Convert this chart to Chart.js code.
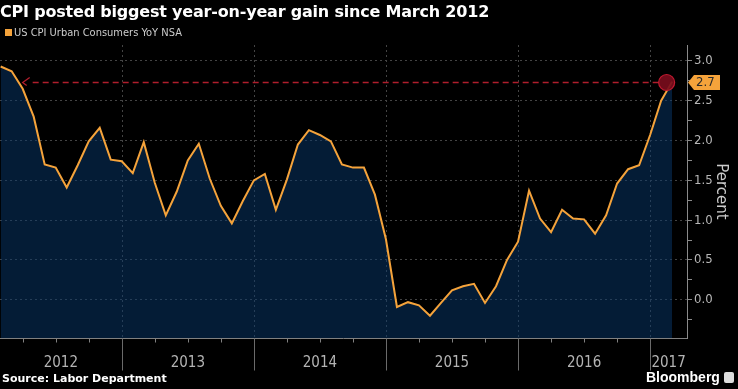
<!DOCTYPE html>
<html>
<head>
<meta charset="utf-8">
<script src="https://cdn.jsdelivr.net/npm/chart.js@4.4.1/dist/chart.umd.min.js"></script>
<style>
  html, body { margin: 0; padding: 0; background: #000; }
  #wrap { position: relative; width: 738px; height: 389px; overflow: hidden; background: #000; }
  #cpiChart { position: absolute; left: 0; top: 0; }
  .title { position: absolute; left: 0; top: 2px; color: #fff; font: bold 16px "DejaVu Sans", sans-serif; letter-spacing: -0.2px; white-space: nowrap; }
  .legend { position: absolute; left: 5px; top: 26px; color: #ccc; font: 11px "DejaVu Sans Condensed", "DejaVu Sans", sans-serif; white-space: nowrap; }
  .legend i { display: inline-block; width: 7px; height: 7px; background: #f5a33b; margin-right: 2px; vertical-align: 0px; }
  .source { position: absolute; left: 2px; top: 372px; color: #fff; font: bold 11px "DejaVu Sans", sans-serif; white-space: nowrap; }
  .brand { position: absolute; left: 646px; top: 369px; color: #fff; font: bold 14px "Liberation Sans", sans-serif; white-space: nowrap; }
  .brand i { display: inline-block; width: 10px; height: 11px; background: #ddd; border-radius: 2px; margin-left: 4px; vertical-align: -1px; }
</style>
</head>
<body>
<div id="wrap">
  <canvas id="cpiChart" width="738" height="389"></canvas>
  <div class="title">CPI posted biggest year-on-year gain since March 2012</div>
  <div class="legend"><i></i>US CPI Urban Consumers YoY NSA</div>
  <div class="source">Source: Labor Department</div>
  <div class="brand">Bloomberg<i></i></div>
</div>
<script>
// Years shown on the x axis; each year has 12 monthly readings (Jan 2012 .. Feb 2017)
const years = ["2012", "2013", "2014", "2015", "2016", "2017"];

// US CPI Urban Consumers YoY NSA, percent, monthly
const cpiYoY = [
  2.93, 2.87, 2.65, 2.30, 1.70, 1.66, 1.41, 1.69, 1.99, 2.16, 1.76, 1.74,
  1.59, 1.98, 1.47, 1.06, 1.36, 1.75, 1.96, 1.52, 1.18, 0.96, 1.24, 1.50,
  1.58, 1.13, 1.51, 1.95, 2.13, 2.07, 1.99, 1.70, 1.66, 1.66, 1.32, 0.76,
  -0.09, -0.03, -0.07, -0.20, -0.04, 0.12, 0.17, 0.20, -0.04, 0.17, 0.50, 0.73,
  1.37, 1.02, 0.85, 1.13, 1.02, 1.01, 0.83, 1.06, 1.46, 1.64, 1.69, 2.07,
  2.50, 2.74,
];

// y axis labels (major) and minor tick values
const yMajor = [0.0, 0.5, 1.0, 1.5, 2.0, 2.5, 3.0];
const yMinor = [-0.25, 0.25, 0.75, 1.25, 1.75, 2.25, 2.75];

// the callout compares the latest reading with March 2012
const compareIndex = 2;

const orange = "#f5a33b";

const axisPlugin = {
  id: "bbgAxis",
  beforeDatasetsDraw(chart) {
    const { ctx, chartArea, scales } = chart;
    const x = scales.x;
    ctx.save();
    ctx.strokeStyle = "#444";
    ctx.lineWidth = 1;
    ctx.setLineDash([2, 3]);
    years.forEach((yr, i) => {
      const idx = i * 12 - 1;
      if (idx < 0) return;
      const px = Math.round(x.getPixelForValue(idx)) + 0.5;
      ctx.beginPath();
      ctx.moveTo(px, chartArea.top);
      ctx.lineTo(px, chartArea.bottom);
      ctx.stroke();
    });
    ctx.restore();
  },
  afterDraw(chart) {
    const { ctx, chartArea, scales } = chart;
    const x = scales.x;
    const y = scales.y;
    const bottom = chartArea.bottom + 0.5;
    ctx.save();

    // x axis line
    ctx.strokeStyle = "#808080";
    ctx.lineWidth = 1;
    ctx.beginPath();
    ctx.moveTo(chartArea.left, bottom);
    ctx.lineTo(chartArea.right, bottom);
    ctx.stroke();

    // quarter ticks
    for (let q = 2; q < cpiYoY.length; q += 3) {
      const px = Math.round(x.getPixelForValue(q)) + 0.5;
      ctx.beginPath();
      ctx.moveTo(px, bottom);
      ctx.lineTo(px, bottom + 4);
      ctx.stroke();
    }

    // year dividers + labels
    ctx.font = "15px 'Liberation Sans Narrow', 'DejaVu Sans Condensed', sans-serif";
    ctx.fillStyle = "#b4b4b4";
    ctx.textAlign = "center";
    ctx.textBaseline = "middle";
    years.forEach((yr, i) => {
      const startIdx = i * 12 - 1;
      const endIdx = i * 12 + 11;
      const px0 = Math.max(chartArea.left, x.getPixelForValue(startIdx));
      const px1 = Math.min(chartArea.right, x.getPixelForValue(endIdx));
      if (startIdx >= 0) {
        const px = Math.round(x.getPixelForValue(startIdx)) + 0.5;
        ctx.strokeStyle = "#6a6a6a";
        ctx.beginPath();
        ctx.moveTo(px, bottom);
        ctx.lineTo(px, bottom + 32);
        ctx.stroke();
      }
      ctx.fillText(yr, (px0 + px1) / 2, 363);
    });

    // callout: latest reading vs March 2012
    const last = cpiYoY.length - 1;
    const lx = x.getPixelForValue(last);
    const ly = Math.round(y.getPixelForValue(cpiYoY[last])) + 0.5;
    const ax = x.getPixelForValue(compareIndex);

    ctx.strokeStyle = "#b01e2c";
    ctx.lineWidth = 1.3;
    ctx.setLineDash([6, 4]);
    ctx.beginPath();
    ctx.moveTo(ax + 10, ly);
    ctx.lineTo(lx - 12, ly);
    ctx.stroke();
    ctx.setLineDash([]);
    ctx.beginPath();
    ctx.moveTo(ax + 7, ly - 5);
    ctx.lineTo(ax, ly);
    ctx.lineTo(ax + 4, ly + 3);
    ctx.stroke();

    ctx.beginPath();
    ctx.arc(lx - 5.5, ly, 8, 0, Math.PI * 2);
    ctx.fillStyle = "rgba(120, 12, 28, 0.92)";
    ctx.fill();
    ctx.strokeStyle = "#c01a30";
    ctx.lineWidth = 1.2;
    ctx.stroke();

    // value tag on the y axis
    const tx = chartArea.right + 1;
    ctx.beginPath();
    ctx.moveTo(tx, ly);
    ctx.lineTo(tx + 6, ly - 7.5);
    ctx.lineTo(tx + 32, ly - 7.5);
    ctx.lineTo(tx + 32, ly + 7.5);
    ctx.lineTo(tx + 6, ly + 7.5);
    ctx.closePath();
    ctx.fillStyle = orange;
    ctx.fill();
    ctx.fillStyle = "#2a2a2a";
    ctx.font = "13px 'DejaVu Sans Condensed', sans-serif";
    ctx.textAlign = "left";
    ctx.fillText(cpiYoY[last].toFixed(1), tx + 8, ly + 0.5);

    ctx.restore();
  },
};

const ctx = document.getElementById("cpiChart").getContext("2d");

new Chart(ctx, {
  type: "line",
  data: {
    datasets: [
      {
        label: "US CPI Urban Consumers YoY NSA",
        data: cpiYoY.map((v, i) => ({ x: i, y: v })),
        borderColor: orange,
        borderWidth: 2,
        pointRadius: 0,
        tension: 0,
        fill: "start",
        backgroundColor: "rgba(8, 56, 108, 0.5)",
      },
    ],
  },
  options: {
    responsive: false,
    animation: false,
    layout: { padding: { top: 45, bottom: 51, left: 0, right: 0 } },
    plugins: {
      legend: { display: false },
      tooltip: { enabled: false },
    },
    scales: {
      x: {
        type: "linear",
        display: false,
        min: -0.06,
        max: 62.35,
      },
      y: {
        position: "right",
        min: -0.48,
        max: 3.2,
        afterBuildTicks(scale) {
          scale.ticks = yMajor.concat(yMinor).sort((a, b) => a - b).map((v) => ({ value: v }));
        },
        afterFit(scale) {
          scale.width = 51;
        },
        ticks: {
          callback: (v) => (yMajor.includes(v) ? v.toFixed(1) : ""),
          color: "#b8b8b8",
          padding: 2,
          font: { size: 13, family: "'DejaVu Sans Condensed', sans-serif" },
        },
        grid: {
          color: (c) => (yMajor.includes(c.tick.value) ? "#444" : "transparent"),
          tickColor: "#8a8a8a",
          tickLength: 5,
        },
        border: {
          color: "#8a8a8a",
          dash: [2, 3],
        },
        title: {
          display: true,
          text: "Percent",
          color: "#cccccc",
          font: { size: 15, family: "'DejaVu Sans', sans-serif" },
          padding: { top: 8, bottom: 0 },
        },
      },
    },
  },
  plugins: [axisPlugin],
});
</script>
</body>
</html>
